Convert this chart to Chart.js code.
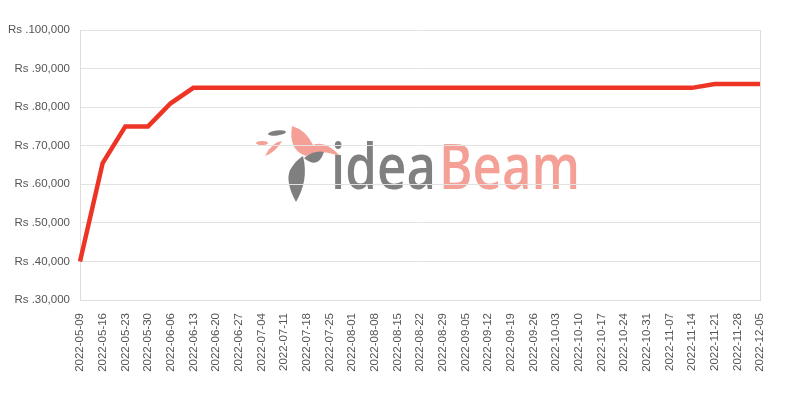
<!DOCTYPE html>
<html>
<head>
<meta charset="utf-8">
<script src="https://cdn.jsdelivr.net/npm/chart.js@4"></script>
<style>
html,body{margin:0;padding:0;background:#fff;}
#wrap{width:800px;height:400px;position:relative;}
</style>
</head>
<body>
<div id="wrap"><canvas id="c"></canvas></div>
<script>
const dateLabels = ["2022-05-09","2022-05-16","2022-05-23","2022-05-30","2022-06-06","2022-06-13","2022-06-20","2022-06-27","2022-07-04","2022-07-11","2022-07-18","2022-07-25","2022-08-01","2022-08-08","2022-08-15","2022-08-22","2022-08-29","2022-09-05","2022-09-12","2022-09-19","2022-09-26","2022-10-03","2022-10-10","2022-10-17","2022-10-24","2022-10-31","2022-11-07","2022-11-14","2022-11-21","2022-11-28","2022-12-05"];
const priceValues = [40000,65500,75000,75000,81000,85000,85000,85000,85000,85000,85000,85000,85000,85000,85000,85000,85000,85000,85000,85000,85000,85000,85000,85000,85000,85000,85000,85000,86000,86000,86000];
const yMin = 30000, yMax = 100000, yStep = 10000;
const currencyPrefix = "Rs .";

const logoPlugin = {
  id: 'logo',
  beforeDraw(chart) {
    const ctx = chart.ctx;
    ctx.save();
    ctx.fillStyle = '#fff';
    ctx.fillRect(0, 0, chart.width, chart.height);
    // bird graphic (approximate)
    ctx.fillStyle = '#f4a096';
    ctx.beginPath();
    ctx.moveTo(292, 126);
    ctx.quadraticCurveTo(306, 130, 313, 145);
    ctx.quadraticCurveTo(326, 140, 341, 157);
    ctx.quadraticCurveTo(322, 148, 306, 156);
    ctx.quadraticCurveTo(288, 150, 292, 126);
    ctx.fill();
    ctx.beginPath();
    ctx.moveTo(265, 156); ctx.quadraticCurveTo(272, 142, 282, 141); ctx.quadraticCurveTo(276, 152, 265, 156); ctx.fill();
    ctx.beginPath();
    ctx.ellipse(262, 143, 6, 2, 0, 0, Math.PI*2); ctx.fill();
    ctx.fillStyle = '#7f7f7f';
    ctx.beginPath();
    ctx.ellipse(277, 133, 9, 2.5, -0.1, 0, Math.PI*2); ctx.fill();
    ctx.beginPath();
    ctx.moveTo(303, 156);
    ctx.quadraticCurveTo(309, 180, 296, 202);
    ctx.quadraticCurveTo(285, 182, 290, 170);
    ctx.quadraticCurveTo(296, 160, 303, 156);
    ctx.fill();
    ctx.beginPath();
    ctx.moveTo(304, 158); ctx.quadraticCurveTo(314, 150, 324, 152); ctx.quadraticCurveTo(318, 170, 304, 158); ctx.fill();
    // text
    ctx.textBaseline = 'alphabetic';
    ctx.font = '600 63px "Open Sans"';
    ctx.fillStyle = '#808080';
    let w = ctx.measureText('idea').width;
    ctx.save(); ctx.translate(331, 189); ctx.scale(105 / w, 1); ctx.fillText('idea', 0, 0); ctx.restore();
    ctx.fillStyle = '#f4a096';
    w = ctx.measureText('Beam').width;
    ctx.save(); ctx.translate(439, 189); ctx.scale(141 / w, 1); ctx.fillText('Beam', 0, 0); ctx.restore();
    ctx.restore();
  }
};

const rightBorder = {
  id: 'rightBorder',
  beforeDatasetsDraw(chart) {
    const a = chart.chartArea, ctx = chart.ctx;
    ctx.save();
    ctx.strokeStyle = '#dddddd';
    ctx.lineWidth = 1;
    ctx.beginPath();
    ctx.moveTo(Math.round(a.right) + 0.5, a.top);
    ctx.lineTo(Math.round(a.right) + 0.5, a.bottom);
    ctx.stroke();
    ctx.restore();
  }
};

new Chart(document.getElementById('c'), {
  type: 'line',
  data: {
    labels: dateLabels,
    datasets: [{
      data: priceValues,
      borderColor: '#ee3424',
      backgroundColor: '#ee3424',
      borderWidth: 4.5,
      pointRadius: 0,
      tension: 0,
      fill: false
    }]
  },
  options: {
    responsive: true,
    maintainAspectRatio: false,
    animation: false,
    layout: { padding: { top: 30, right: 40, left: 0, bottom: 0 } },
    plugins: { legend: { display: false }, tooltip: { enabled: false } },
    scales: {
      x: {
        offset: false,
        grid: { display: false, drawTicks: false },
        border: { display: true, color: '#dddddd' },
        ticks: {
          autoSkip: false, minRotation: 90, maxRotation: 90, padding: 13,
          color: '#555', font: { family: '"Liberation Sans"', size: 11.5 }
        },
        afterFit(s) { s.height = 100; }
      },
      y: {
        min: yMin, max: yMax,
        grid: { color: '#e2e2e2', drawTicks: false },
        border: { display: true, color: '#dddddd' },
        ticks: {
          stepSize: yStep, padding: 10,
          color: '#555', font: { family: '"Liberation Sans"', size: 11.5 },
          callback: v => currencyPrefix + Number(v).toLocaleString('en-US')
        },
        afterFit(s) { s.width = 80; }
      }
    }
  },
  plugins: [logoPlugin, rightBorder]
});
</script>
</body>
</html>
